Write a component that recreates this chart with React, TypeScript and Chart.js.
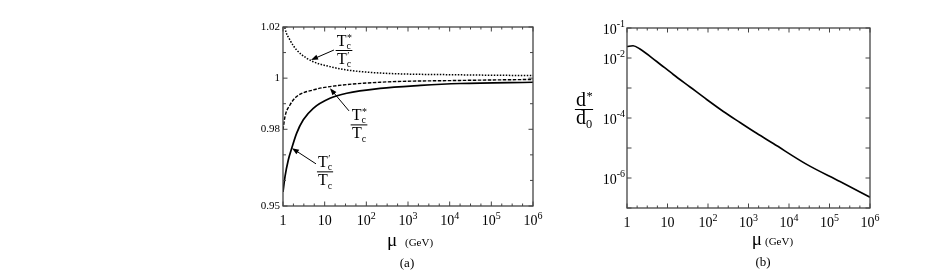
import React, { useEffect, useRef } from "react";
import { Chart, registerables } from "chart.js";

Chart.register(...registerables);

const FONT = '"Liberation Serif", "Times New Roman", serif';

// ---------------- Panel (a) data ----------------
const muSolidA = [1, 1.117, 1.34, 1.62, 2.13, 3.07, 5.33, 13.4, 33.8, 214, 2000, 17800, 1e6];
const ratioPrimeOverTc = [0.9555, 0.9615, 0.968, 0.9726, 0.9785, 0.9837, 0.9882, 0.9921, 0.9941, 0.996, 0.99715, 0.9979, 0.9984];

const muDashedA = [1, 1.117, 1.47, 2.13, 5.33, 13.4, 214, 17800, 1e6];
const ratioStarOverTc = [0.9798, 0.985, 0.9895, 0.9928, 0.9954, 0.9967, 0.9984, 0.9991, 0.9995];

const muDottedA = [1, 1.117, 1.47, 2.13, 3.7, 5.33, 13.4, 33.8, 214, 17800, 1e6];
const ratioStarOverPrime = [1.0245, 1.0195, 1.0149, 1.011, 1.0078, 1.0064, 1.0045, 1.0032, 1.002, 1.0013, 1.001];

const yTicksA = [0.95, 0.96, 0.97, 0.98, 0.99, 1.0, 1.01, 1.02];
const yLabelValuesA = [0.95, 0.98, 1, 1.02];
const yLabelTextsA = ["0.95", "0.98", "1", "1.02"];

// ---------------- Panel (b) data ----------------
const muB = [1, 1.41, 2.09, 5.41, 13.9, 36, 92.9, 239, 617, 1592, 4093, 27350, 181500, 1e6];
const dRatioB = [0.02415, 0.0257, 0.01995, 0.00764, 0.00282, 0.00108, 4.14e-4, 1.65e-4, 7.08e-5, 3.09e-5, 1.41e-5, 2.85e-6, 7.64e-7, 2.28e-7];

const yDecadesB = [1e-7, 1e-6, 1e-5, 1e-4, 1e-3, 1e-2, 1e-1];
const yLabelValuesB = [1e-1, 1e-2, 1e-4, 1e-6];
const yLabelExpB = ["-1", "-2", "-4", "-6"];

// ---------------- shared x axis ----------------
const xDecades = [1, 10, 100, 1e3, 1e4, 1e5, 1e6];
const xLabelBase = ["1", "10", "10", "10", "10", "10", "10"];
const xLabelExp = ["", "", "2", "3", "4", "5", "6"];
const xMinorFractions = [0.25, 0.5, 0.75];

type Tok = { t: string; sub?: string; sup?: string };

function toksWidth(ctx: CanvasRenderingContext2D, toks: Tok[], size: number) {
  let w = 0;
  for (const k of toks) {
    ctx.font = `${size}px ${FONT}`;
    w += ctx.measureText(k.t).width;
    ctx.font = `${size * 0.62}px ${FONT}`;
    const a = k.sub ? ctx.measureText(k.sub).width : 0;
    const b = k.sup ? ctx.measureText(k.sup).width : 0;
    w += Math.max(a, b);
  }
  return w;
}

function drawToks(ctx: CanvasRenderingContext2D, toks: Tok[], x: number, base: number, size: number) {
  let cx = x;
  ctx.textAlign = "left";
  ctx.textBaseline = "alphabetic";
  for (const k of toks) {
    ctx.font = `${size}px ${FONT}`;
    ctx.fillText(k.t, cx, base);
    cx += ctx.measureText(k.t).width;
    ctx.font = `${size * 0.62}px ${FONT}`;
    let ws = 0;
    if (k.sub) {
      ctx.fillText(k.sub, cx, base + size * 0.2);
      ws = Math.max(ws, ctx.measureText(k.sub).width);
    }
    if (k.sup) {
      ctx.fillText(k.sup, cx + 0.5, base - size * 0.3);
      ws = Math.max(ws, ctx.measureText(k.sup).width);
    }
    cx += ws;
  }
}

function drawFrac(ctx: CanvasRenderingContext2D, num: Tok[], den: Tok[], cx: number, barY: number, size: number, numGap: number, denGap: number) {
  const wn = toksWidth(ctx, num, size);
  const wd = toksWidth(ctx, den, size);
  const w = Math.max(wn, wd) + 2;
  ctx.fillStyle = "#000";
  drawToks(ctx, num, cx - wn / 2, barY - numGap, size);
  drawToks(ctx, den, cx - wd / 2, barY + denGap, size);
  ctx.strokeStyle = "#000";
  ctx.lineWidth = 1;
  ctx.beginPath();
  ctx.moveTo(cx - w / 2, barY + 0.5);
  ctx.lineTo(cx + w / 2, barY + 0.5);
  ctx.stroke();
}

function drawPow(ctx: CanvasRenderingContext2D, base: string, exp: string, x: number, y: number, align: "center" | "right", size: number, supSize: number, raise: number) {
  ctx.font = `${size}px ${FONT}`;
  const wb = ctx.measureText(base).width;
  ctx.font = `${supSize}px ${FONT}`;
  const we = exp ? ctx.measureText(exp).width : 0;
  const total = wb + we;
  const left = align === "center" ? x - total / 2 : x - total;
  ctx.textAlign = "left";
  ctx.textBaseline = "alphabetic";
  ctx.font = `${size}px ${FONT}`;
  ctx.fillText(base, left, y);
  if (exp) {
    ctx.font = `${supSize}px ${FONT}`;
    ctx.fillText(exp, left + wb, y - raise);
  }
}

function drawArrow(ctx: CanvasRenderingContext2D, x1: number, y1: number, x2: number, y2: number) {
  const ang = Math.atan2(y2 - y1, x2 - x1);
  const L = 7;
  const H = 2.6;
  ctx.strokeStyle = "#000";
  ctx.fillStyle = "#000";
  ctx.lineWidth = 1;
  ctx.beginPath();
  ctx.moveTo(x1, y1);
  ctx.lineTo(x2 - Math.cos(ang) * L * 0.8, y2 - Math.sin(ang) * L * 0.8);
  ctx.stroke();
  ctx.beginPath();
  ctx.moveTo(x2, y2);
  ctx.lineTo(x2 - Math.cos(ang) * L - Math.sin(ang) * H, y2 - Math.sin(ang) * L + Math.cos(ang) * H);
  ctx.lineTo(x2 - Math.cos(ang) * L + Math.sin(ang) * H, y2 - Math.sin(ang) * L - Math.cos(ang) * H);
  ctx.closePath();
  ctx.fill();
}

function drawFrameAndXTicks(chart: any) {
  const ctx: CanvasRenderingContext2D = chart.ctx;
  const a = chart.chartArea;
  const xs = chart.scales.x;
  ctx.save();
  ctx.strokeStyle = "#444";
  ctx.lineWidth = 1.3;
  ctx.strokeRect(a.left, a.top, a.right - a.left, a.bottom - a.top);
  ctx.lineWidth = 1;
  ctx.beginPath();
  for (let i = 0; i < xDecades.length; i++) {
    const d = xDecades[i];
    const px = xs.getPixelForValue(d);
    ctx.moveTo(px, a.bottom);
    ctx.lineTo(px, a.bottom - 4.5);
    ctx.moveTo(px, a.top);
    ctx.lineTo(px, a.top + 4.5);
    if (i < xDecades.length - 1) {
      for (const f of xMinorFractions) {
        const m = xs.getPixelForValue(d * Math.pow(10, f));
        ctx.moveTo(m, a.bottom);
        ctx.lineTo(m, a.bottom - 2.5);
        ctx.moveTo(m, a.top);
        ctx.lineTo(m, a.top + 2.5);
      }
    }
  }
  ctx.stroke();
  ctx.fillStyle = "#000";
  for (let i = 0; i < xDecades.length; i++) {
    const px = xs.getPixelForValue(xDecades[i]);
    drawPow(ctx, xLabelBase[i], xLabelExp[i], px, a.bottom + 19, "center", 14, 10, 6.5);
  }
  ctx.restore();
}

function drawMuTitle(ctx: CanvasRenderingContext2D, left: number, gevLeft: number, base: number) {
  ctx.fillStyle = "#000";
  ctx.textAlign = "left";
  ctx.textBaseline = "alphabetic";
  ctx.font = `19px ${FONT}`;
  ctx.fillText("\u03bc", left, base);
  ctx.font = `11px ${FONT}`;
  ctx.fillText("(GeV)", gevLeft, base);
}

const decorA = {
  id: "decorA",
  afterDraw(chart: any) {
    const ctx: CanvasRenderingContext2D = chart.ctx;
    const a = chart.chartArea;
    const xs = chart.scales.x;
    const ys = chart.scales.y;
    drawFrameAndXTicks(chart);
    ctx.save();
    ctx.strokeStyle = "#444";
    ctx.lineWidth = 1;
    ctx.beginPath();
    for (const v of yTicksA) {
      const py = ys.getPixelForValue(v);
      const len = yLabelValuesA.includes(v) ? 4.5 : 3;
      ctx.moveTo(a.left, py);
      ctx.lineTo(a.left + len, py);
      ctx.moveTo(a.right, py);
      ctx.lineTo(a.right - len, py);
    }
    ctx.stroke();
    ctx.fillStyle = "#000";
    ctx.font = `11px ${FONT}`;
    ctx.textAlign = "right";
    ctx.textBaseline = "middle";
    for (let i = 0; i < yLabelValuesA.length; i++) {
      ctx.fillText(yLabelTextsA[i], a.left - 3, ys.getPixelForValue(yLabelValuesA[i]));
    }
    // annotations
    const P = (mu: number, v: number) => [xs.getPixelForValue(mu), ys.getPixelForValue(v)];
    const TcStar: Tok[] = [{ t: "T", sub: "c", sup: "*" }];
    const TcPrime: Tok[] = [{ t: "T", sub: "c", sup: "\u2032" }];
    const Tc: Tok[] = [{ t: "T", sub: "c" }];
    let p = P(29.1, 1.011);
    drawFrac(ctx, TcStar, TcPrime, p[0], p[1], 16, 4.5, 14);
    let s = P(16.7, 1.011), e = P(4.7, 1.0071);
    drawArrow(ctx, s[0], s[1], e[0], e[1]);
    p = P(66.7, 0.98191);
    drawFrac(ctx, TcStar, Tc, p[0], p[1], 16, 4.5, 14);
    s = P(38.4, 0.98719); e = P(13.4, 0.99605);
    drawArrow(ctx, s[0], s[1], e[0], e[1]);
    p = P(10.2, 0.96355);
    drawFrac(ctx, TcPrime, Tc, p[0], p[1], 16, 4.5, 14);
    s = P(6.19, 0.96648); e = P(1.64, 0.97262);
    drawArrow(ctx, s[0], s[1], e[0], e[1]);
    // titles
    drawMuTitle(ctx, 387, 405, 246);
    ctx.font = `13px ${FONT}`;
    ctx.textAlign = "center";
    ctx.textBaseline = "alphabetic";
    ctx.fillText("(a)", 407, 267);
    ctx.restore();
  },
};

const decorB = {
  id: "decorB",
  afterDraw(chart: any) {
    const ctx: CanvasRenderingContext2D = chart.ctx;
    const a = chart.chartArea;
    const ys = chart.scales.y;
    drawFrameAndXTicks(chart);
    ctx.save();
    ctx.strokeStyle = "#444";
    ctx.lineWidth = 1;
    ctx.beginPath();
    for (const v of yDecadesB) {
      const py = ys.getPixelForValue(v);
      ctx.moveTo(a.left, py);
      ctx.lineTo(a.left + 4.5, py);
      ctx.moveTo(a.right, py);
      ctx.lineTo(a.right - 4.5, py);
    }
    ctx.stroke();
    ctx.fillStyle = "#000";
    for (let i = 0; i < yLabelValuesB.length; i++) {
      const py = ys.getPixelForValue(yLabelValuesB[i]);
      drawPow(ctx, "10", yLabelExpB[i], a.left - 2, py + 5.5, "right", 14, 10, 6.5);
    }
    // y title d*/d0
    drawFrac(ctx, [{ t: "d", sup: "*" }], [{ t: "d", sub: "0" }], 584 - 560, 109, 20, 3, 14.5);
    drawMuTitle(ctx, 751.7 - 560, 765 - 560, 245);
    ctx.font = `13px ${FONT}`;
    ctx.textAlign = "center";
    ctx.textBaseline = "alphabetic";
    ctx.fillText("(b)", 763 - 560, 266);
    ctx.restore();
  },
};

const pts = (xs: number[], ys: number[]) => xs.map((x, i) => ({ x, y: ys[i] }));

export default function App() {
  const refA = useRef<HTMLCanvasElement>(null);
  const refB = useRef<HTMLCanvasElement>(null);

  useEffect(() => {
    const common = {
      pointRadius: 0,
      borderColor: "#000",
      cubicInterpolationMode: "monotone" as const,
      fill: false,
    };
    const chartA = new Chart(refA.current!, {
      type: "line",
      data: {
        datasets: [
          { ...common, label: "Tc'/Tc", data: pts(muSolidA, ratioPrimeOverTc), borderWidth: 1.7 },
          { ...common, label: "Tc*/Tc", data: pts(muDashedA, ratioStarOverTc), borderWidth: 1.4, borderDash: [3.5, 1.5] },
          { ...common, label: "Tc*/Tc'", data: pts(muDottedA, ratioStarOverPrime), borderWidth: 1.5, borderDash: [1.5, 1.5] },
        ],
      },
      options: {
        animation: false,
        responsive: false,
        devicePixelRatio: 1,
        layout: { padding: { left: 283, right: 27, top: 27, bottom: 70 } },
        plugins: { legend: { display: false }, tooltip: { enabled: false }, title: { display: false } },
        events: [],
        scales: {
          x: { type: "logarithmic", min: 1, max: 1e6, display: false },
          y: { type: "linear", min: 0.95, max: 1.02, display: false },
        },
      },
      plugins: [decorA],
    });
    const chartB = new Chart(refB.current!, {
      type: "line",
      data: {
        datasets: [
          { ...common, label: "d*/d0", data: pts(muB, dRatioB), borderWidth: 1.6 },
        ],
      },
      options: {
        animation: false,
        responsive: false,
        devicePixelRatio: 1,
        layout: { padding: { left: 67, right: 57, top: 28, bottom: 68 } },
        plugins: { legend: { display: false }, tooltip: { enabled: false }, title: { display: false } },
        events: [],
        scales: {
          x: { type: "logarithmic", min: 1, max: 1e6, display: false },
          y: { type: "logarithmic", min: 1e-7, max: 1e-1, display: false },
        },
      },
      plugins: [decorB],
    });
    return () => {
      chartA.destroy();
      chartB.destroy();
    };
  }, []);

  return (
    <div style={{ position: "fixed", left: 0, top: 0, width: 927, height: 276, background: "#fff" }}>
      <canvas ref={refA} width={560} height={276} style={{ position: "absolute", left: 0, top: 0, width: 560, height: 276 }} />
      <canvas ref={refB} width={367} height={276} style={{ position: "absolute", left: 560, top: 0, width: 367, height: 276 }} />
    </div>
  );
}
